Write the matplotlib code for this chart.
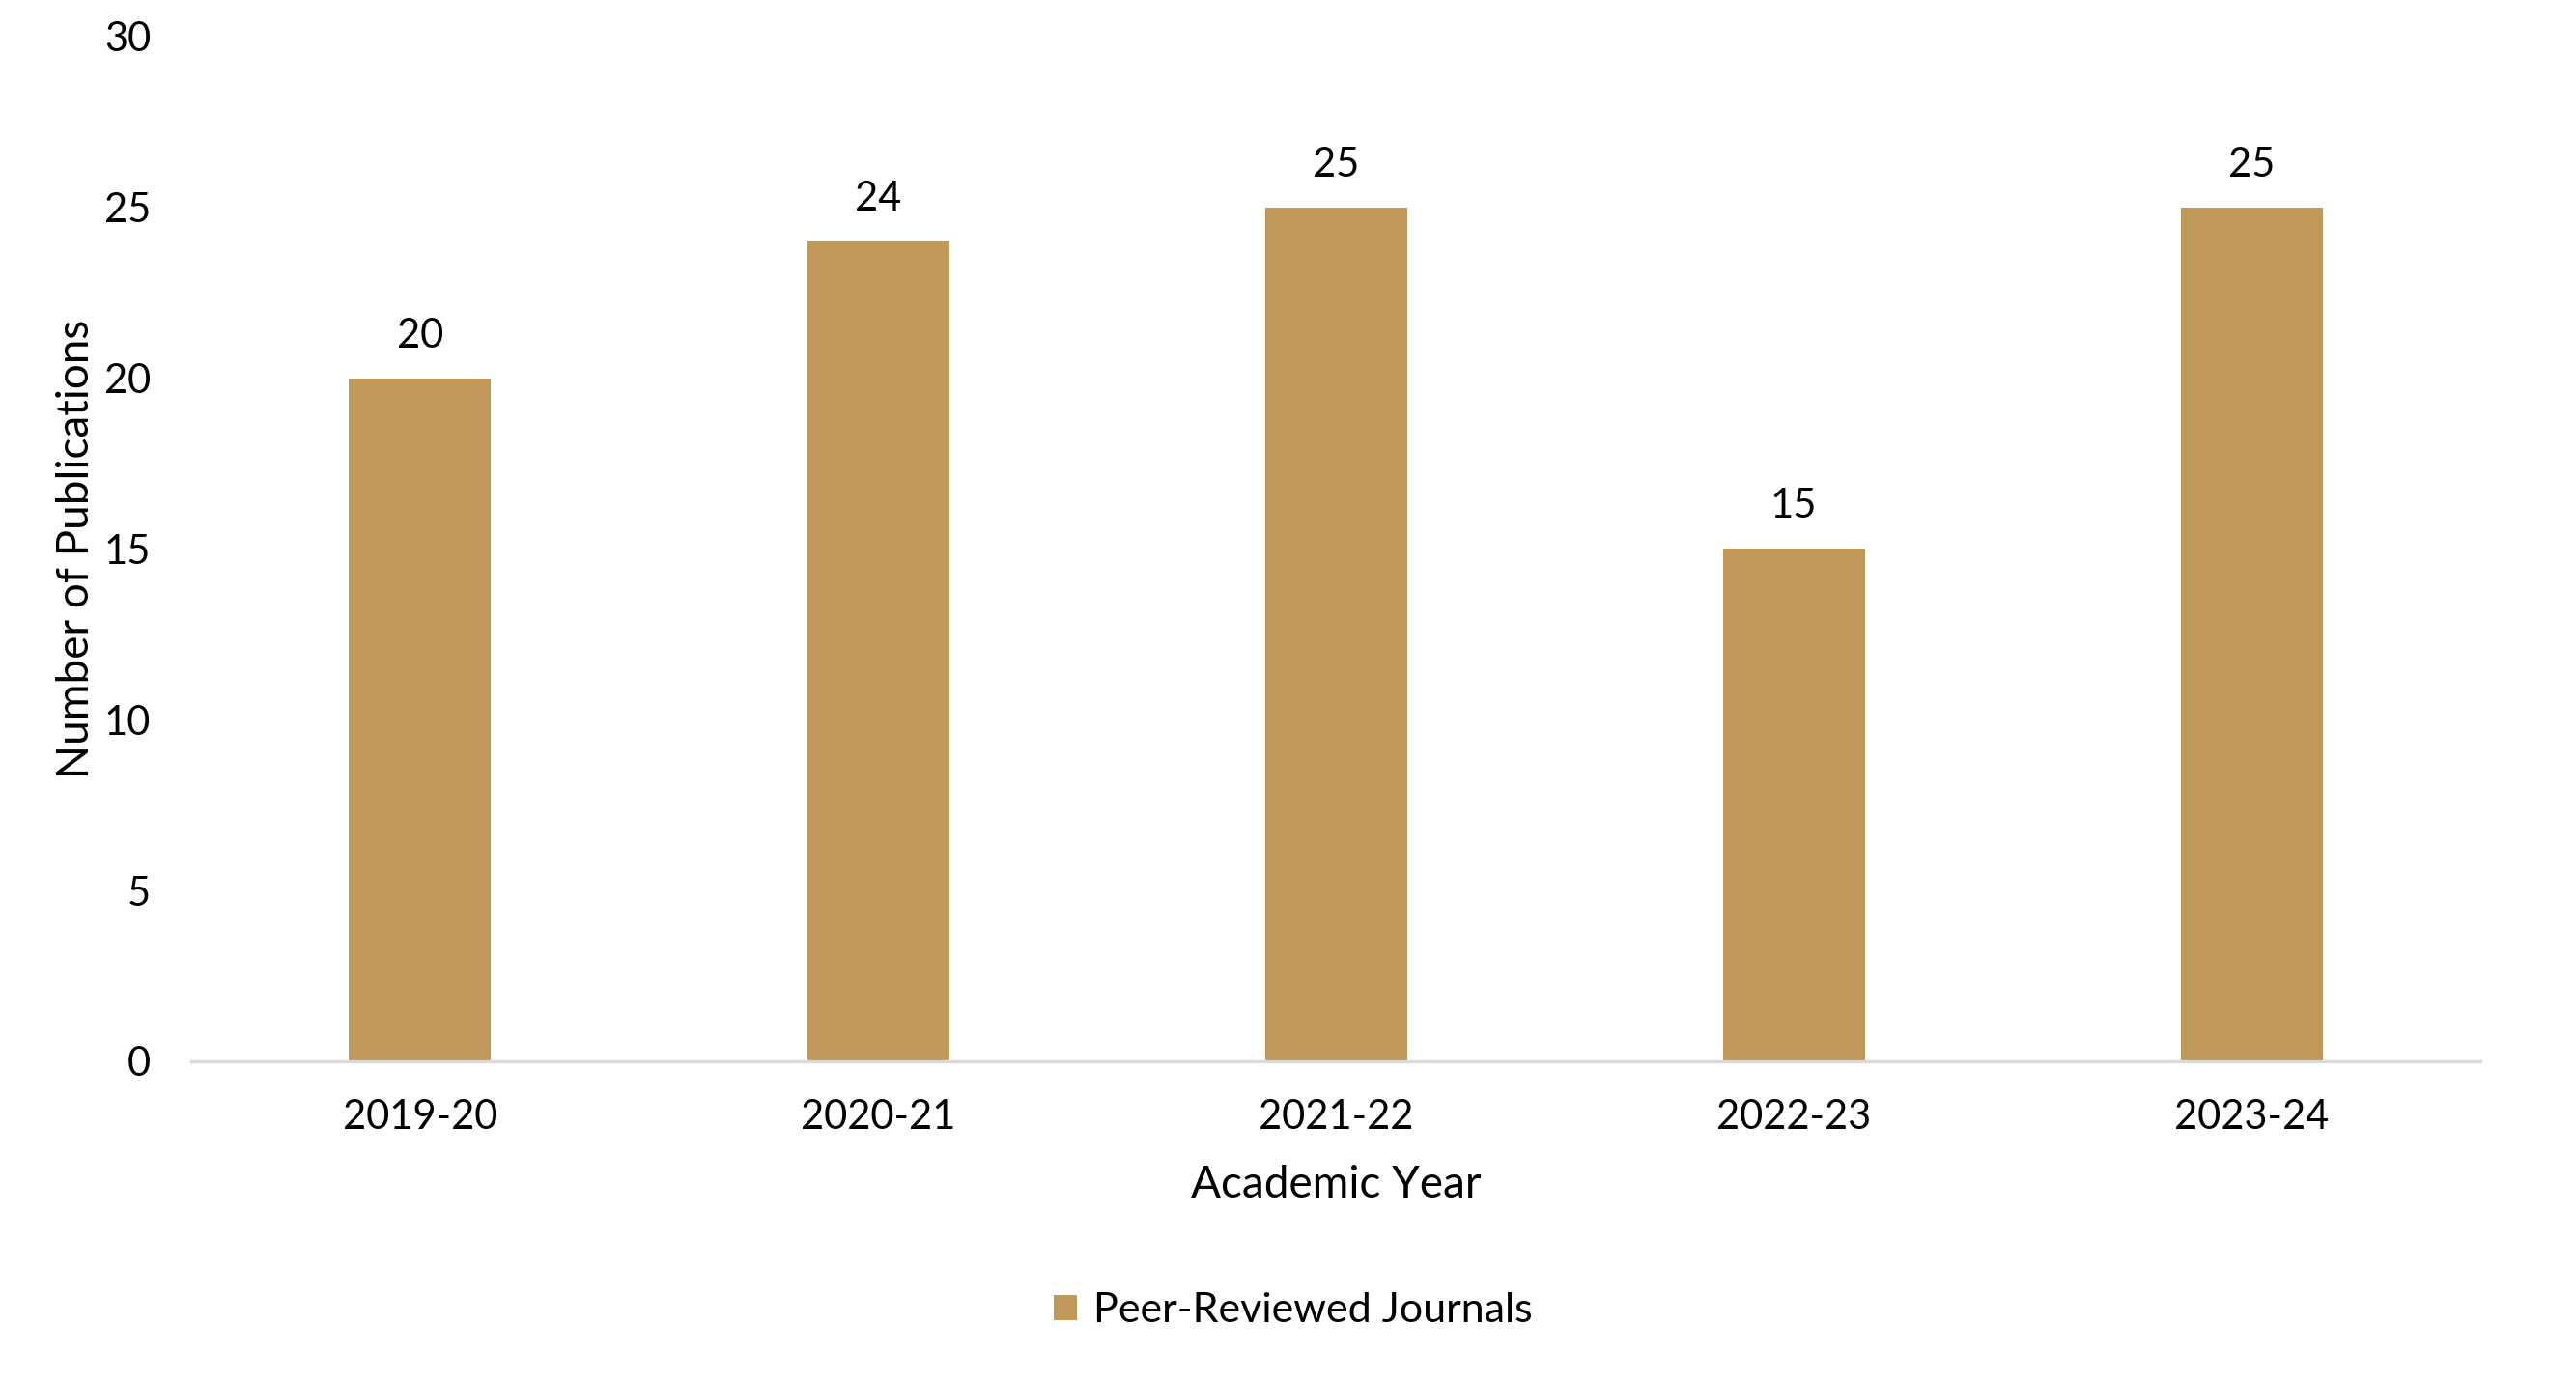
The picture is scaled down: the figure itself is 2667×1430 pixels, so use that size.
import matplotlib.pyplot as plt

years = ['2019-20', '2020-21', '2021-22', '2022-23', '2023-24']
journals = [20, 24, 25, 15, 25]
y_ticks = [0, 5, 10, 15, 20, 25, 30]

plt.rcParams['font.family'] = ['Lato', 'DejaVu Sans']

bar_color = '#C09859'

fig = plt.figure(figsize=(13.335, 7.15), dpi=200)
ax = fig.add_axes([0.0742, 0.2315, 0.8888, 0.742])

x = range(len(years))
bars = ax.bar(x, journals, width=0.31, color=bar_color, label='Peer-Reviewed Journals')
for b, v in zip(bars, journals):
    ax.annotate(str(v), (b.get_x() + b.get_width() / 2, v), xytext=(0, 9),
                textcoords='offset points', ha='center', va='bottom', fontsize=15)

ax.set_xlim(-0.5, len(years) - 0.5)
ax.set_ylim(0, 30)
ax.set_yticks(y_ticks)
ax.set_xticks(list(x))
ax.set_xticklabels(years)
ax.tick_params(axis='both', length=0, labelsize=15)
ax.tick_params(axis='y', pad=15)
ax.tick_params(axis='x', pad=14)

for s in ['top', 'right', 'left']:
    ax.spines[s].set_visible(False)
ax.spines['bottom'].set_color('#D9D9D9')
ax.spines['bottom'].set_linewidth(1.2)

ax.set_xlabel('Academic Year', fontsize=16.5, labelpad=11)
ax.set_ylabel('Number of Publications', fontsize=16.5, labelpad=3)

fig.legend(loc='center', bbox_to_anchor=(0.502, 0.051), frameon=False, fontsize=15.5,
           handlelength=0.55, handleheight=0.55, handletextpad=0.4)

fig.savefig('out.png', dpi=200, facecolor='white')
